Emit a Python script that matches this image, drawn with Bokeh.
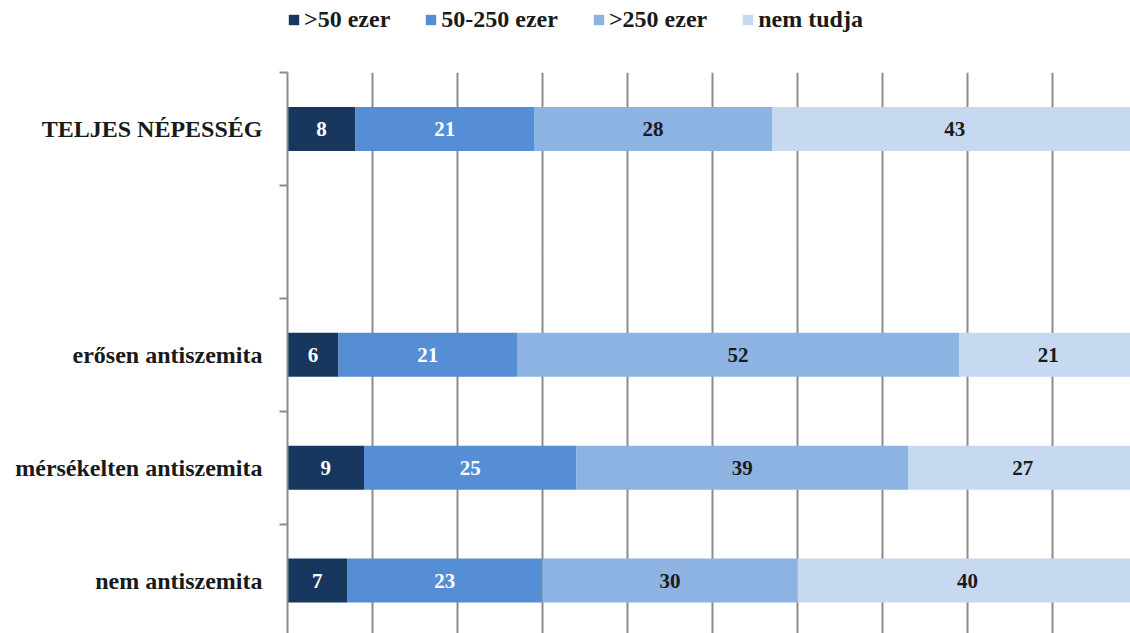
from bokeh.plotting import figure
from bokeh.models import ColumnDataSource, Legend, LegendItem, FixedTicker
from bokeh.layouts import column
from bokeh.core.properties import value
from bokeh.embed import file_html
from bokeh.resources import INLINE

categories = ["TELJES NÉPESSÉG", "erősen antiszemita", "mérsékelten antiszemita", "nem antiszemita"]
positions = [5, 3, 2, 1]
series_names = [">50 ezer", "50-250 ezer", ">250 ezer", "nem tudja"]
s1 = [8, 6, 9, 7]
s2 = [21, 21, 25, 23]
s3 = [28, 52, 39, 30]
s4 = [43, 21, 27, 40]
colors = ["#17375e", "#558ed5", "#8db3e2", "#c6d9f1"]
text_colors = ["white", "white", "#1a1a1a", "#1a1a1a"]

FONT = "Liberation Serif"
DARK = "#1a1a1a"
GRID = "#8c8c8c"

src = ColumnDataSource(dict(y=positions, s1=s1, s2=s2, s3=s3, s4=s4))

p = figure(width=1130, height=573, output_backend="svg", toolbar_location=None,
           x_range=(0, 99.18), y_range=(0.531, 5.5),
           min_border_left=287, min_border_right=0, min_border_bottom=0, min_border_top=12)
p.outline_line_color = None

rs = p.hbar_stack(["s1", "s2", "s3", "s4"], y="y", height=0.39, color=colors, source=src, line_color=None)

# value labels at segment centres
series = [s1, s2, s3, s4]
for i, vals in enumerate(series):
    xs, ys, ts = [], [], []
    for j, v in enumerate(vals):
        base = sum(series[k][j] for k in range(i))
        xs.append(base + v / 2)
        ys.append(positions[j])
        ts.append(str(v))
    p.text(x=xs, y=ys, text=ts, text_align="center", text_baseline="middle",
           text_font=value(FONT), text_font_style="bold", text_font_size="21px",
           text_color=text_colors[i])

# grid
p.xgrid.ticker = FixedTicker(ticks=[10, 20, 30, 40, 50, 60, 70, 80, 90])
p.xgrid.grid_line_color = GRID
p.xgrid.grid_line_width = 2
p.ygrid.grid_line_color = None
p.xgrid.level = "underlay"
p.xaxis.visible = False

# y axis
yax = p.yaxis[0]
yax.ticker = FixedTicker(ticks=positions, minor_ticks=[1.5, 2.5, 3.5, 4.5, 5.5])
yax.major_label_overrides = {pos: cat for pos, cat in zip(positions, categories)}
yax.major_tick_out = 0
yax.major_tick_in = 0
yax.minor_tick_out = 8
yax.minor_tick_in = 0
yax.minor_tick_line_color = GRID
yax.minor_tick_line_width = 2
yax.axis_line_color = GRID
yax.axis_line_width = 2
yax.major_label_standoff = 17
yax.major_label_text_font = FONT
yax.major_label_text_font_style = "bold"
yax.major_label_text_font_size = "24px"
yax.major_label_text_color = DARK

# legend in a strip above the chart (frames of the column are aligned)
lg = figure(width=1130, height=60, output_backend="svg", toolbar_location=None,
            x_range=(0, 1), y_range=(0, 1),
            min_border_left=0, min_border_right=0, min_border_bottom=0, min_border_top=0)
lg.outline_line_color = None
lg.axis.visible = False
lg.grid.visible = False
lrs = lg.hbar_stack(["s1", "s2", "s3", "s4"], y="y", height=0.39, color=colors, source=src, line_color=None)
for r in lrs:
    r.visible = False

legend = Legend(items=[LegendItem(label=n, renderers=[r]) for n, r in zip(series_names, lrs)],
                orientation="horizontal", location=(0, 27))
legend.glyph_width = 13
legend.glyph_height = 13
legend.padding = 0
legend.margin = 0
legend.spacing = 34
legend.label_standoff = 4
legend.label_height = 24
legend.label_text_font = FONT
legend.label_text_font_style = "bold"
legend.label_text_font_size = "24px"
legend.label_text_color = DARK
legend.label_text_baseline = "middle"
legend.border_line_color = None
legend.background_fill_alpha = 0
legend.inactive_fill_alpha = 0
lg.add_layout(legend)

layout = column(lg, p, spacing=0)
open("out.html", "w").write(file_html(layout, INLINE))
